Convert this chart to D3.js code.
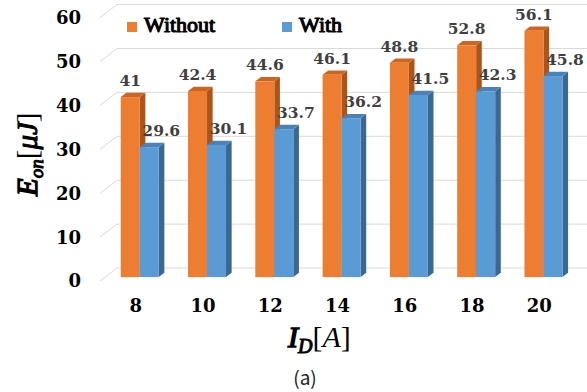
<!DOCTYPE html>
<html>
<head>
<meta charset="utf-8">
<script src="https://cdn.jsdelivr.net/npm/d3@7/dist/d3.min.js"></script>
<style>
  html, body { margin: 0; padding: 0; background: #fff; }
  svg { display: block; }
  .serif { font-family: "Liberation Serif", "Times New Roman", "DejaVu Serif", serif; }
  .num { font-family: "DejaVu Serif", "Liberation Serif", serif; font-weight: bold; }
  /* heavier serif strokes drawn with an outline on the regular face */
  .heavy { font-weight: normal; paint-order: stroke; stroke-linejoin: round; }
</style>
</head>
<body>
<script>
// Turn-on energy vs drain current, with and without the technique
const categories = ["8", "10", "12", "14", "16", "18", "20"];
const seriesNames = ["Without", "With"];
const withoutValues = [41, 42.4, 44.6, 46.1, 48.8, 52.8, 56.1];
const withValues = [29.6, 30.1, 33.7, 36.2, 41.5, 42.3, 45.8];
const yTicks = [0, 10, 20, 30, 40, 50, 60];

const W = 587, H = 392;

// face colours: front, side, top
const palette = {
  Without: { front: "#ED7D31", side: "#AE5419", top: "#CC6520" },
  With:    { front: "#5B9BD5", side: "#3A6894", top: "#4A82B8" }
};

const svg = d3.select("body").append("svg")
  .attr("width", W).attr("height", H);

// oblique 3D projection: depth z in [0,1] shifts right and up
const DX = 17, DY = -13;
const y = d3.scaleLinear().domain([0, 60]).range([281, 281 - 60 * 4.39]);
const x = d3.scaleBand().domain(categories).range([101, 572]).padding(0);
const inner = d3.scaleBand().domain(seriesNames).range([-19, 19]).padding(0);
const P = (px, v, z) => [px + DX * z, y(v) + DY * z];

// gridlines: short floor/side diagonal plus back-wall line
const grid = svg.append("g");
yTicks.forEach(v => {
  const a = P(x.range()[0] - 1, v, 0), b = P(x.range()[0] - 1, v, 1);
  grid.append("path")
    .attr("d", `M${a[0]},${a[1]}L${b[0]},${b[1]}L${W + 2},${b[1]}`)
    .attr("fill", "none").attr("stroke", "#D9D9D9").attr("stroke-width", 1);
});

// y tick labels
svg.append("g").selectAll("text").data(yTicks).join("text")
  .attr("class", "num")
  .attr("x", 81).attr("y", d => y(d))
  .attr("dy", "0.36em")
  .attr("text-anchor", "end")
  .attr("font-size", 18)
  .attr("fill", "#000")
  .text(d => d);

// x tick labels
svg.append("g").selectAll("text").data(categories).join("text")
  .attr("class", "num")
  .attr("x", d => x(d) + x.bandwidth() / 2 + 1).attr("y", 312)
  .attr("text-anchor", "middle")
  .attr("font-size", 18)
  .attr("fill", "#000")
  .text(d => d);

// bars
const Z1 = 0.3, Z2 = 0.63;
const rows = [];
categories.forEach((c, i) => {
  rows.push({ cat: c, s: "Without", v: withoutValues[i] });
  rows.push({ cat: c, s: "With", v: withValues[i] });
});

const bars = svg.append("g");
rows.forEach(d => {
  const cx = x(d.cat) + x.bandwidth() / 2;
  const x0 = cx + inner(d.s), x1 = x0 + inner.bandwidth();
  const col = palette[d.s];
  const poly = pts => "M" + pts.map(p => p.join(",")).join("L") + "Z";
  const g = bars.append("g");
  g.append("path")
    .attr("d", poly([P(x1, d.v, Z1), P(x1, d.v, Z2), P(x1, 0, Z2), P(x1, 0, Z1)]))
    .attr("fill", col.side);
  g.append("path")
    .attr("d", poly([P(x0, d.v, Z1), P(x1, d.v, Z1), P(x1, d.v, Z2), P(x0, d.v, Z2)]))
    .attr("fill", col.top);
  const f0 = P(x0, d.v, Z1), f1 = P(x1, 0, Z1);
  g.append("rect")
    .attr("x", f0[0]).attr("y", f0[1])
    .attr("width", f1[0] - f0[0]).attr("height", f1[1] - f0[1])
    .attr("fill", col.front);
});

// value labels
svg.append("g").selectAll("text").data(rows).join("text")
  .attr("class", "num")
  .attr("x", d => {
    const cx = x(d.cat) + x.bandwidth() / 2;
    const mid = cx + inner(d.s) + inner.bandwidth() / 2 + DX * Z1;
    return d.s === "With" ? mid + 12 : mid;
  })
  .attr("y", d => P(0, d.v, Z1)[1] - 11)
  .attr("text-anchor", "middle")
  .attr("font-size", 15.5)
  .attr("fill", "#404040")
  .text(d => d.v);

// legend
const legend = svg.append("g");
[{ s: "Without", x: 127 }, { s: "With", x: 282 }].forEach(l => {
  legend.append("rect").attr("x", l.x).attr("y", 22).attr("width", 10).attr("height", 10)
    .attr("fill", palette[l.s].front);
  legend.append("text").attr("class", "serif heavy").attr("x", l.x + 17).attr("y", 32)
    .attr("font-size", 22)
    .attr("fill", "#000").attr("stroke", "#000").attr("stroke-width", 1.1)
    .text(l.s);
});

// x axis title: I_D[A]
const xt = svg.append("text").attr("class", "serif").attr("x", 288).attr("y", 347)
  .attr("font-size", 30).attr("fill", "#000");
xt.append("tspan").attr("font-style", "italic")
  .attr("stroke", "#000").attr("stroke-width", 1.4).text("I");
xt.append("tspan").attr("font-style", "italic")
  .attr("stroke", "#000").attr("stroke-width", 1)
  .attr("font-size", 20).attr("dy", 6).text("D");
xt.append("tspan").attr("dy", -6).text("[");
xt.append("tspan").attr("font-style", "italic").text("A");
xt.append("tspan").text("]");

// y axis title: E_on[μJ]
const yt = svg.append("text").attr("class", "serif")
  .attr("transform", "translate(37,196) rotate(-90)")
  .attr("font-size", 29).attr("fill", "#000");
yt.append("tspan").attr("font-style", "italic")
  .attr("stroke", "#000").attr("stroke-width", 1.4).text("E");
yt.append("tspan").attr("font-style", "italic")
  .attr("stroke", "#000").attr("stroke-width", 1)
  .attr("font-size", 19).attr("dy", 6).text("on");
yt.append("tspan").attr("dy", -6).text("[");
yt.append("tspan").attr("font-style", "italic")
  .attr("stroke", "#000").attr("stroke-width", 1).text("μJ");
yt.append("tspan").text("]");

// panel caption
svg.append("text").attr("x", 305).attr("y", 385)
  .attr("text-anchor", "middle")
  .attr("font-family", "'Noto Sans CJK JP', 'Noto Sans', sans-serif")
  .attr("font-size", 19).attr("fill", "#222")
  .text("(a)");
</script>
</body>
</html>
